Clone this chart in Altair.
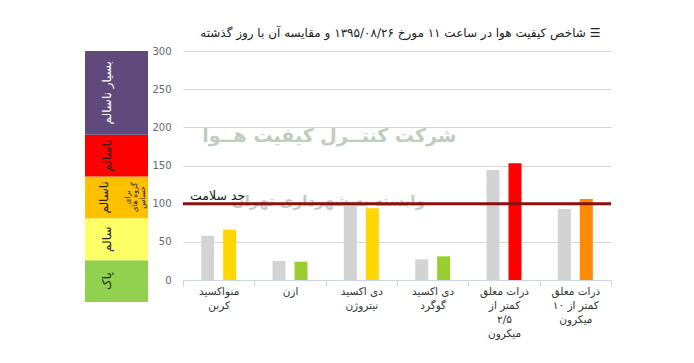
import altair as alt
import pandas as pd

# ---------------- data ----------------
categories = [
    "منواکسید\nکربن",
    "ازن",
    "دی اکسید\nنیتروژن",
    "دی اکسید\nگوگرد",
    "ذرات معلق\nکمتر از\n۲/۵\nمیکرون",
    "ذرات معلق\nکمتر از ۱۰\nمیکرون",
]
yesterday_values = [58, 25, 102, 27, 144, 93]
today_values = [66, 24, 94, 31, 153, 106]
today_colors = ["#ffd700", "#9acd32", "#ffd700", "#9acd32", "#ff0000", "#ff8c00"]
yesterday_color = "#d3d3d3"
y_ticks = [0, 50, 100, 150, 200, 250, 300]
health_limit = 100
health_label = "حد سلامت"

band_labels = ["پاک", "سالم", "ناسالم", "ناسالم", "بسیار ناسالم"]
band_low = [0, 50, 100, 150, 200]
band_high = [50, 100, 150, 200, 300]
band_colors = ["#92d050", "#ffff66", "#ffc000", "#ff0000", "#604a7b"]
sensitive_note = "برای\nگروه های\nحساس"

title_text = "شاخص کیفیت هوا در ساعت ۱۱ مورخ ۱۳۹۵/۰۸/۲۶ و مقایسه آن با روز گذشته"
watermark_1 = "شرکت کنتــرل کیفیت هــوا"
watermark_2 = "وابسته به شهرداری تهران"

FONT = "DejaVu Sans"

# ---------------- tables ----------------
rows = []
for c, v in zip(categories, yesterday_values):
    rows.append({"cat": c, "series": "yesterday", "value": v, "color": yesterday_color})
for c, v, col in zip(categories, today_values, today_colors):
    rows.append({"cat": c, "series": "today", "value": v, "color": col})
bars_df = pd.DataFrame(rows)

band_df = pd.DataFrame({
    "label": band_labels,
    "lo": band_low,
    "hi": band_high,
    "color": band_colors,
})
band_df["mid"] = (band_df["lo"] + band_df["hi"]) / 2
band_df["idx"] = range(len(band_df))

# ---------------- main chart ----------------
x_scale = alt.Scale(domain=categories, paddingInner=0, paddingOuter=0)
x_axis = alt.Axis(
    title=None, labelAngle=0, labelFont=FONT, labelFontSize=10.5,
    labelColor="#333333", labelLineHeight=14, labelPadding=0,
    labelExpr="split(datum.label, '\\n')", labelLimit=200,
    tickSize=6, tickColor="#ccd6eb", domainColor="#ccd6eb",
    tickBand="extent", grid=False,
)
y_scale = alt.Scale(domain=[0, 300], nice=False)
y_axis = alt.Axis(
    title=None, values=y_ticks, labelFont=FONT, labelFontSize=10,
    labelColor="#666666", labelPadding=12, ticks=False, domain=False,
    gridColor="#d6d6d6",
)


def xe(field):
    return alt.X(field, sort=categories, scale=x_scale, axis=x_axis)


def ye(field):
    return alt.Y(field, scale=y_scale, axis=y_axis)


bars = alt.Chart(bars_df).mark_bar().encode(
    x=xe("cat:N"),
    xOffset=alt.XOffset(
        "series:N", sort=["yesterday", "today"],
        scale=alt.Scale(domain=["yesterday", "today"], paddingInner=0.409, paddingOuter=0.827),
    ),
    y=ye("value:Q"),
    color=alt.Color("color:N", scale=None),
)

wm_df = pd.DataFrame({"t": [watermark_1], "cat": [categories[2]], "v": [188]})
wm2_df = pd.DataFrame({"t": [watermark_2], "cat": [categories[2]], "v": [103]})

wm1 = alt.Chart(wm_df).mark_text(
    font=FONT, fontSize=19, fontWeight="bold", color="#bfcdc0",
    dx=-32, baseline="middle"
).encode(x=xe("cat:N"), y=ye("v:Q"), text="t:N")
wm2 = alt.Chart(wm2_df).mark_text(
    font=FONT, fontSize=15, fontWeight="bold", color="#bfcdc0",
    dx=-33, baseline="middle"
).encode(x=xe("cat:N"), y=ye("v:Q"), text="t:N")

limit_df = pd.DataFrame({"v": [health_limit], "t": [health_label], "cat": [categories[0]]})
limit_rule = alt.Chart(limit_df).mark_rule(color="#8a1010", strokeWidth=3).encode(
    y=ye("v:Q")
)
limit_text = alt.Chart(limit_df).mark_text(
    font=FONT, fontSize=12.5, color="#111111", baseline="bottom", dx=-1, dy=-1
).encode(x=xe("cat:N"), y=ye("v:Q"), text="t:N")

main = alt.layer(wm1, wm2, bars, limit_rule, limit_text).properties(
    width=428, height=229,
    title=alt.TitleParams(
        text=title_text + "  ☰", anchor="end", font=FONT, fontSize=12,
        fontWeight="normal", color="#222222", offset=6, dx=-12,
    ),
)

# ---------------- AQI band ----------------
band_y = alt.Scale(domain=[0, 300], nice=False)
band_rect = alt.Chart(band_df).mark_rect().encode(
    y=alt.Y("lo:Q", scale=band_y, axis=None),
    y2="hi:Q",
    color=alt.Color("color:N", scale=None),
)
band_text = alt.Chart(band_df).transform_filter("datum.idx != 2").mark_text(
    font=FONT, fontSize=12, angle=270, baseline="middle", dy=-10
).encode(
    y=alt.Y("mid:Q", scale=band_y, axis=None),
    text="label:N",
    color=alt.condition("datum.idx == 4", alt.value("#ffffff"), alt.value("#222222")),
)
band_text_orange = alt.Chart(band_df).transform_filter("datum.idx == 2").mark_text(
    font=FONT, fontSize=12, angle=270, baseline="middle", dy=-13, color="#222222"
).encode(y=alt.Y("mid:Q", scale=band_y, axis=None), text="label:N")
note_df = pd.DataFrame({"t": [sensitive_note], "v": [band_df["mid"][2]]})
band_note = alt.Chart(note_df).transform_calculate(
    lines="split(datum.t, '\\n')"
).mark_text(
    font=FONT, fontSize=7.5, angle=270, baseline="middle", dy=11, lineHeight=7.5,
    color="#222222",
).encode(
    y=alt.Y("v:Q", scale=band_y, axis=None),
    text="lines:N",
)

band = alt.layer(band_rect, band_text, band_text_orange, band_note).properties(width=63, height=251)

chart = alt.hconcat(band, main, spacing=3).properties(
    padding={"left": 77, "top": 19, "right": 5, "bottom": 5},
    background="white",
).configure_view(stroke=None)

chart.save("out.html", embed_options={"renderer": "svg", "actions": False})
